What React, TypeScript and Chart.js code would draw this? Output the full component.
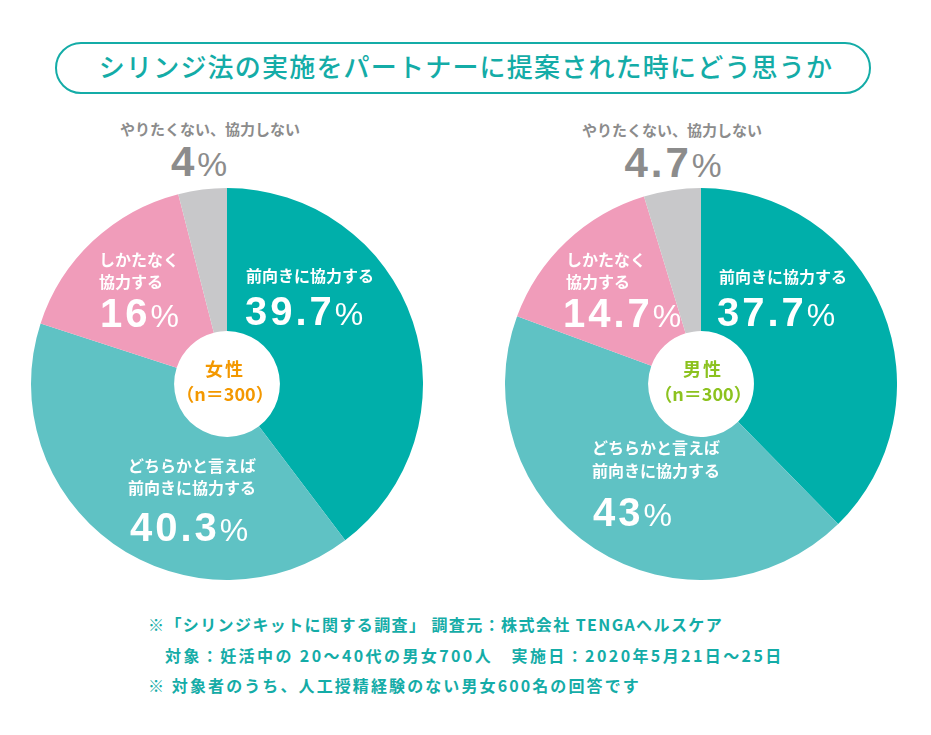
import React, { useEffect, useRef } from "react";
import { Chart, registerables } from "chart.js";

Chart.register(...registerables);

const categories = ["前向きに協力する", "どちらかと言えば前向きに協力する", "しかたなく協力する", "やりたくない、協力しない"];
const womenValues = [39.7, 40.3, 16, 4];
const menValues = [37.7, 43, 14.7, 4.7];
const sliceColors = ["#00afaa", "#5fc2c4", "#f09cba", "#c8c8ca"];

const TEAL = "#14aca7";
const JP = '"Noto Sans CJK JP", "Noto Sans", sans-serif';
const NUM = '"Liberation Sans", Arial, sans-serif';

function Pie({ values, left, top, size }: { values: number[]; left: number; top: number; size: number }) {
  const ref = useRef<HTMLCanvasElement>(null);
  useEffect(() => {
    if (!ref.current) return;
    const chart = new Chart(ref.current, {
      type: "doughnut",
      data: {
        labels: categories,
        datasets: [{ data: values, backgroundColor: sliceColors, borderWidth: 0 }],
      },
      options: {
        responsive: false,
        animation: false,
        cutout: "27%",
        layout: { padding: 0 },
        plugins: { legend: { display: false }, tooltip: { enabled: false } },
      },
    });
    return () => chart.destroy();
  }, [values]);
  return (
    <canvas ref={ref} width={size} height={size} style={{ position: "absolute", left, top, width: size, height: size }} />
  );
}

function JText({ x, y, text, size, color, align = "left", ls = 0, weight = 700 }: any) {
  const style: React.CSSProperties = {
    position: "absolute",
    top: y - size * 0.07,
    fontFamily: JP,
    fontWeight: weight,
    fontSize: size,
    lineHeight: 1,
    color,
    whiteSpace: "nowrap",
    letterSpacing: ls,
  };
  if (align === "center") {
    style.left = x - 600;
    style.width = 1200;
    style.textAlign = "center";
  } else {
    style.left = x;
  }
  return <div style={style}>{text}</div>;
}

function Num({ x, y, value, size, color, align = "left" }: any) {
  const style: React.CSSProperties = {
    position: "absolute",
    top: y - size * 0.13,
    fontFamily: NUM,
    fontWeight: 700,
    fontSize: size,
    lineHeight: `${size}px`,
    color,
    whiteSpace: "nowrap",
    letterSpacing: 3,
  };
  if (align === "center") {
    style.left = x - 200;
    style.width = 400;
    style.textAlign = "center";
  } else {
    style.left = x;
  }
  return (
    <div style={style}>
      {String(value)}
      <span style={{ fontSize: size * 0.8, fontWeight: 400, letterSpacing: 0 }}>%</span>
    </div>
  );
}

export default function App() {
  return (
    <div style={{ position: "absolute", left: 0, top: 0, width: 931, height: 735, background: "#fff", overflow: "hidden" }}>
      <div
        style={{
          position: "absolute",
          left: 55,
          top: 42,
          width: 816,
          height: 52,
          boxSizing: "border-box",
          border: `2px solid ${TEAL}`,
          borderRadius: 26,
        }}
      />
      <JText x={466} y={55} text="シリンジ法の実施をパートナーに提案された時にどう思うか" size={26} color={TEAL} align="center" ls={1.2} weight={500} />

      <Pie values={womenValues} left={31} top={188} size={392} />
      <Pie values={menValues} left={505} top={188} size={392} />

      {/* Women */}
      <JText x={210} y={122} text={categories[3]} size={15} color="#8c8c8c" align="center" />
      <Num x={199} y={146} value={womenValues[3]} size={42} color="#8c8c8c" align="center" />
      <JText x={246} y={268} text={categories[0]} size={16} color="#fff" />
      <Num x={245} y={296} value={womenValues[0]} size={40} color="#fff" />
      <JText x={99} y={252} text="しかたなく" size={16} color="#fff" />
      <JText x={99} y={274} text="協力する" size={16} color="#fff" />
      <Num x={100} y={298} value={womenValues[2]} size={40} color="#fff" />
      <JText x={128} y={458} text="どちらかと言えば" size={16} color="#fff" />
      <JText x={128} y={480} text="前向きに協力する" size={16} color="#fff" />
      <Num x={130} y={512} value={womenValues[1]} size={40} color="#fff" />
      <JText x={225} y={360} text="女性" size={18} color="#f39800" align="center" ls={2} />
      <JText x={225} y={385} text="（n＝300）" size={18} color="#f39800" align="center" />

      {/* Men */}
      <JText x={672} y={123} text={categories[3]} size={15} color="#8c8c8c" align="center" />
      <Num x={673} y={147} value={menValues[3]} size={42} color="#8c8c8c" align="center" />
      <JText x={719} y={269} text={categories[0]} size={16} color="#fff" />
      <Num x={717} y={297} value={menValues[0]} size={40} color="#fff" />
      <JText x={566} y={252} text="しかたなく" size={16} color="#fff" />
      <JText x={566} y={274} text="協力する" size={16} color="#fff" />
      <Num x={563} y={298} value={menValues[2]} size={40} color="#fff" />
      <JText x={592} y={440} text="どちらかと言えば" size={16} color="#fff" />
      <JText x={592} y={463} text="前向きに協力する" size={16} color="#fff" />
      <Num x={593} y={497} value={menValues[1]} size={40} color="#fff" />
      <JText x={703} y={360} text="男性" size={18} color="#8cc21f" align="center" ls={2} />
      <JText x={703} y={385} text="（n＝300）" size={18} color="#8cc21f" align="center" />

      {/* Footnotes */}
      <JText x={148} y={617} text="※「シリンジキットに関する調査」 調査元：株式会社 TENGAヘルスケア" size={16} color={TEAL} ls={1.4} />
      <JText x={165} y={648} text="対象：妊活中の 20～40代の男女700人　実施日：2020年5月21日～25日" size={16} color={TEAL} ls={2.4} />
      <JText x={148} y={678} text="※ 対象者のうち、人工授精経験のない男女600名の回答です" size={16} color={TEAL} ls={2.1} />
    </div>
  );
}
